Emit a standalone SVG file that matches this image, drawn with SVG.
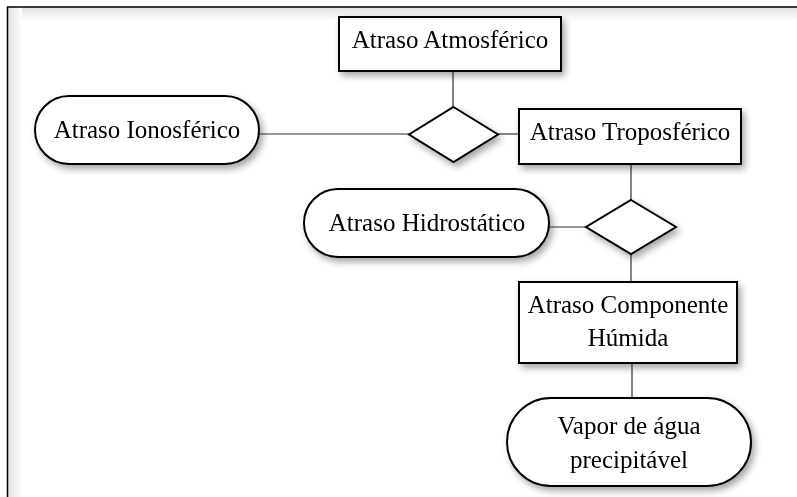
<svg xmlns="http://www.w3.org/2000/svg" width="797" height="497" viewBox="0 0 797 497">
<style>
.shape{fill:#fff;stroke:#000;stroke-width:2}
.dia{fill:#fff;stroke:#000;stroke-width:2}
.conn line{stroke:#333;stroke-width:1.2}
text{font-family:"Liberation Serif","Times New Roman",serif;font-size:25px;fill:#000;text-anchor:middle}
</style>
<defs>
<filter id="sh" x="-20%" y="-30%" width="150%" height="170%">
<feDropShadow dx="3" dy="4" stdDeviation="3.5" flood-color="#000" flood-opacity="0.35"/>
</filter>
<linearGradient id="gl" x1="0" y1="0" x2="1" y2="0">
<stop offset="0" stop-color="#e2e2e2"/><stop offset="1" stop-color="#fff"/>
</linearGradient>
<linearGradient id="gt" x1="0" y1="0" x2="0" y2="1">
<stop offset="0" stop-color="#e2e2e2"/><stop offset="1" stop-color="#fff"/>
</linearGradient>
</defs>
<rect x="0" y="0" width="797" height="497" fill="#fff"/>
<g id="frame">
<rect x="8" y="7" width="789" height="14" fill="url(#gt)"/>
<rect x="8" y="7" width="14" height="490" fill="url(#gl)"/>
<path d="M7.5 497 V7 H797" fill="none" stroke="#000" stroke-width="1.5"/>
</g>
<g class="conn" id="connectors">
<line x1="453" y1="71" x2="453" y2="107"/>
<line x1="259" y1="134" x2="409" y2="134"/>
<line x1="498" y1="134" x2="519" y2="134"/>
<line x1="631" y1="164" x2="631" y2="200"/>
<line x1="549" y1="227" x2="586" y2="227"/>
<line x1="631" y1="254" x2="631" y2="282"/>
<line x1="632" y1="363" x2="632" y2="398"/>
</g>
<g id="atmosferico" filter="url(#sh)">
<rect class="shape" x="339" y="17" width="222" height="54"/>
<text x="450" y="48">Atraso Atmosférico</text>
</g>
<g id="ionosferico" filter="url(#sh)">
<rect class="shape" x="35" y="96" width="224" height="68" rx="34" ry="34"/>
<text x="147" y="138">Atraso Ionosférico</text>
</g>
<g id="d1" filter="url(#sh)">
<polygon class="dia" points="453.5,107 498,134.5 453.5,162 409,134.5"/>
</g>
<g id="troposferico" filter="url(#sh)">
<rect class="shape" x="519" y="109" width="222" height="55"/>
<text x="630" y="140">Atraso Troposférico</text>
</g>
<g id="hidrostatico" filter="url(#sh)">
<rect class="shape" x="304" y="189" width="245" height="68" rx="34" ry="34"/>
<text x="427" y="231">Atraso Hidrostático</text>
</g>
<g id="d2" filter="url(#sh)">
<polygon class="dia" points="631,200 676,227 631,254 586,227"/>
</g>
<g id="componente" filter="url(#sh)">
<rect class="shape" x="519" y="282" width="218" height="81"/>
<text x="628" y="313">Atraso Componente</text>
<text x="628" y="346">Húmida</text>
</g>
<g id="vapor" filter="url(#sh)">
<rect class="shape" x="507" y="398" width="244" height="88" rx="44" ry="44"/>
<text x="629" y="434">Vapor de água</text>
<text x="629" y="468">precipitável</text>
</g>
</svg>
